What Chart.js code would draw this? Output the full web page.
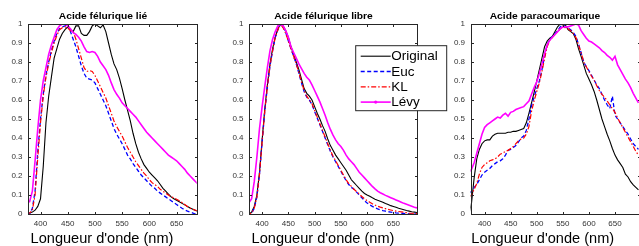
<!DOCTYPE html>
<html>
<head>
<meta charset="utf-8">
<script src="https://cdn.jsdelivr.net/npm/chart.js@4.4.0/dist/chart.umd.min.js"></script>
<style>
html, body { margin: 0; padding: 0; background: #fff; overflow: hidden; width: 639px; height: 246px; }
.plot { position: absolute; top: 0; height: 246px; }
</style>
</head>
<body>
<div class="plot" style="left:0px;width:213px;z-index:1"><canvas id="c1" width="213" height="246" style="width:213px;height:246px"></canvas></div>
<div class="plot" style="left:426px;width:230px;z-index:2"><canvas id="c3" width="230" height="246" style="width:230px;height:246px"></canvas></div>
<div class="plot" style="left:213px;width:250px;z-index:3"><canvas id="c2" width="250" height="246" style="width:250px;height:246px"></canvas></div>
<script>
// wavelengths (nm), shared by all three panels
const wavelengths = [
  370, 375, 380, 385, 390, 395, 400, 405, 410, 415,
  420, 425, 430, 435, 440, 445, 450, 455, 460, 465,
  470, 475, 480, 485, 490, 495, 500, 505, 510, 515,
  520, 525, 530, 535, 540, 545, 550, 555, 560, 565,
  570, 575, 580, 585, 590, 595, 600, 605, 610, 615,
  620, 625, 630, 635, 640, 645, 650, 655, 660, 665,
  670, 675, 680, 685, 690, 695
];
const seriesNames = ['Original', 'Euc', 'KL', 'Lévy'];
const xTicks = [400, 450, 500, 550, 600, 650];
const yTicks = [0, 0.1, 0.2, 0.3, 0.4, 0.5, 0.6, 0.7, 0.8, 0.9, 1];

// Acide férulique lié
const lieOriginal = [
  0, 0, 0.005, 0.01, 0.02, 0.04, 0.08, 0.25, 0.48, 0.62,
  0.72, 0.82, 0.87, 0.92, 0.95, 0.97, 0.985, 0.97, 0.96, 0.99,
  0.99, 0.95, 0.94, 0.94, 0.96, 0.99, 1.0, 0.99, 0.98, 0.995,
  0.96, 0.90, 0.84, 0.79, 0.76, 0.715, 0.66, 0.60, 0.545, 0.49,
  0.425, 0.37, 0.325, 0.29, 0.26, 0.24, 0.22, 0.205, 0.19, 0.175,
  0.155, 0.135, 0.12, 0.105, 0.09, 0.08, 0.072, 0.064, 0.056, 0.048,
  0.04, 0.032, 0.025, 0.018, 0.012, 0.008
];
const lieEuc = [
  0, 0, 0, 0.03, 0.12, 0.33, 0.50, 0.63, 0.73, 0.80,
  0.86, 0.91, 0.95, 0.975, 0.985, 0.99, 1.0, 0.96, 0.92, 0.88,
  0.83, 0.78, 0.74, 0.715, 0.71, 0.705, 0.69, 0.66, 0.63, 0.60,
  0.57, 0.53, 0.49, 0.45, 0.42, 0.395, 0.37, 0.34, 0.31, 0.29,
  0.265, 0.245, 0.225, 0.205, 0.19, 0.175, 0.16, 0.145, 0.135, 0.12,
  0.11, 0.10, 0.09, 0.08, 0.07, 0.06, 0.05, 0.04, 0.03, 0.022,
  0.015, 0.01, 0.005, 0, 0, 0
];
const lieKL = [
  0, 0, 0.005, 0.02, 0.10, 0.30, 0.48, 0.62, 0.72, 0.79,
  0.85, 0.90, 0.94, 0.97, 0.98, 0.985, 0.98, 0.965, 0.96, 0.92,
  0.87, 0.82, 0.77, 0.75, 0.755, 0.75, 0.73, 0.70, 0.67, 0.64,
  0.61, 0.57, 0.53, 0.49, 0.46, 0.435, 0.41, 0.38, 0.35, 0.325,
  0.30, 0.275, 0.255, 0.235, 0.215, 0.20, 0.18, 0.165, 0.155, 0.145,
  0.13, 0.12, 0.11, 0.10, 0.09, 0.085, 0.078, 0.07, 0.06, 0.05,
  0.04, 0.03, 0.025, 0.02, 0.015, 0.01
];
const lieLevy = [
  0.06, 0.06, 0.065, 0.12, 0.28, 0.45, 0.60, 0.70, 0.77, 0.84,
  0.89, 0.93, 0.97, 0.99, 1.0, 1.0, 0.99, 0.975, 0.955, 0.945,
  0.93, 0.91, 0.88, 0.855, 0.85, 0.855, 0.85, 0.83, 0.80, 0.78,
  0.76, 0.73, 0.69, 0.655, 0.63, 0.61, 0.585, 0.57, 0.555, 0.54,
  0.525, 0.51, 0.49, 0.47, 0.45, 0.43, 0.415, 0.40, 0.385, 0.37,
  0.355, 0.34, 0.325, 0.31, 0.30, 0.29, 0.28, 0.265, 0.25, 0.235,
  0.215, 0.20, 0.185, 0.17, 0.155, 0.14
];

// Acide férulique libre
const libreOriginal = [
  0, 0, 0.01, 0.04, 0.10, 0.22, 0.39, 0.55, 0.68, 0.79,
  0.87, 0.93, 0.975, 1.0, 0.99, 0.965, 0.93, 0.88, 0.84, 0.80,
  0.76, 0.71, 0.66, 0.635, 0.62, 0.60, 0.565, 0.53, 0.50, 0.465,
  0.435, 0.395, 0.36, 0.335, 0.31, 0.29, 0.27, 0.25, 0.23, 0.205,
  0.18, 0.165, 0.15, 0.135, 0.12, 0.108, 0.10, 0.093, 0.085, 0.078,
  0.072, 0.067, 0.062, 0.055, 0.05, 0.044, 0.04, 0.035, 0.03, 0.026,
  0.022, 0.018, 0.015, 0.012, 0.01, 0.008
];
const libreEuc = [
  0, 0, 0.005, 0.03, 0.09, 0.21, 0.38, 0.54, 0.67, 0.78,
  0.86, 0.93, 0.97, 1.0, 0.985, 0.955, 0.91, 0.87, 0.83, 0.79,
  0.74, 0.69, 0.645, 0.615, 0.60, 0.575, 0.54, 0.505, 0.47, 0.435,
  0.40, 0.365, 0.33, 0.30, 0.275, 0.25, 0.225, 0.20, 0.175, 0.155,
  0.14, 0.13, 0.115, 0.10, 0.085, 0.07, 0.058, 0.048, 0.04, 0.033,
  0.027, 0.022, 0.018, 0.015, 0.012, 0.01, 0.008, 0.006, 0.005, 0.004,
  0.003, 0.002, 0.001, 0, 0, 0
];
const libreKL = [
  0, 0, 0.005, 0.03, 0.09, 0.21, 0.38, 0.54, 0.67, 0.78,
  0.86, 0.93, 0.97, 1.0, 0.98, 0.95, 0.91, 0.87, 0.83, 0.79,
  0.745, 0.695, 0.65, 0.62, 0.60, 0.58, 0.545, 0.51, 0.475, 0.44,
  0.405, 0.37, 0.335, 0.305, 0.28, 0.255, 0.23, 0.205, 0.18, 0.16,
  0.145, 0.13, 0.118, 0.105, 0.092, 0.08, 0.07, 0.062, 0.054, 0.047,
  0.041, 0.036, 0.032, 0.028, 0.024, 0.021, 0.018, 0.015, 0.013, 0.011,
  0.009, 0.007, 0.005, 0.004, 0.003, 0.002
];
const libreLevy = [
  0.06, 0.06, 0.08, 0.17, 0.30, 0.45, 0.565, 0.67, 0.77, 0.86,
  0.92, 0.96, 0.99, 1.0, 0.99, 0.965, 0.93, 0.88, 0.85, 0.82,
  0.79, 0.765, 0.74, 0.72, 0.705, 0.68, 0.65, 0.62, 0.59, 0.555,
  0.52, 0.48, 0.445, 0.415, 0.39, 0.37, 0.355, 0.335, 0.31, 0.29,
  0.275, 0.26, 0.24, 0.22, 0.205, 0.19, 0.175, 0.16, 0.145, 0.132,
  0.12, 0.112, 0.105, 0.098, 0.092, 0.086, 0.08, 0.074, 0.068, 0.062,
  0.056, 0.051, 0.046, 0.041, 0.036, 0.032
];

// Acide paracoumarique
const paraOriginal = [
  0, 0.06, 0.19, 0.29, 0.34, 0.37, 0.385, 0.39, 0.39, 0.41,
  0.42, 0.425, 0.425, 0.425, 0.425, 0.43, 0.43, 0.435, 0.435, 0.44,
  0.445, 0.45, 0.48, 0.53, 0.585, 0.64, 0.70, 0.76, 0.82, 0.88,
  0.91, 0.925, 0.935, 0.96, 0.985, 1.0, 0.995, 0.995, 0.97, 0.96,
  0.95, 0.92, 0.87, 0.83, 0.785, 0.74, 0.71, 0.68, 0.645, 0.60,
  0.55, 0.50, 0.46, 0.42, 0.385, 0.345, 0.31, 0.285, 0.265, 0.245,
  0.21, 0.195, 0.17, 0.153, 0.14, 0.127
];
const paraEuc = [
  0.11, 0.12, 0.14, 0.155, 0.18, 0.205, 0.22, 0.23, 0.24, 0.255,
  0.265, 0.275, 0.28, 0.29, 0.31, 0.335, 0.34, 0.35, 0.36, 0.38,
  0.40, 0.41, 0.44, 0.50, 0.57, 0.615, 0.66, 0.70, 0.76, 0.83,
  0.89, 0.92, 0.935, 0.95, 0.965, 0.985, 0.995, 0.985, 0.98, 0.97,
  0.955, 0.935, 0.895, 0.85, 0.80, 0.775, 0.755, 0.73, 0.705, 0.68,
  0.66, 0.63, 0.60, 0.575, 0.555, 0.62, 0.52, 0.50, 0.48, 0.46,
  0.44, 0.42, 0.395, 0.37, 0.355, 0.34
];
const paraKL = [
  0.09, 0.10, 0.13, 0.16, 0.21, 0.245, 0.26, 0.27, 0.28, 0.285,
  0.29, 0.30, 0.315, 0.32, 0.33, 0.335, 0.345, 0.355, 0.37, 0.385,
  0.395, 0.40, 0.42, 0.46, 0.54, 0.595, 0.645, 0.69, 0.75, 0.82,
  0.88, 0.915, 0.93, 0.945, 0.96, 0.975, 0.985, 0.98, 0.975, 0.965,
  0.95, 0.93, 0.89, 0.85, 0.80, 0.775, 0.75, 0.725, 0.705, 0.675,
  0.65, 0.63, 0.615, 0.595, 0.575, 0.555, 0.535, 0.505, 0.48, 0.455,
  0.43, 0.405, 0.38, 0.355, 0.33, 0.31
];
const paraLevy = [
  0.22, 0.235, 0.27, 0.32, 0.37, 0.42, 0.455, 0.47, 0.48, 0.49,
  0.50, 0.51, 0.505, 0.52, 0.53, 0.515, 0.535, 0.54, 0.55, 0.555,
  0.56, 0.565, 0.58, 0.595, 0.63, 0.665, 0.695, 0.74, 0.79, 0.845,
  0.89, 0.915, 0.93, 0.945, 0.96, 0.975, 0.985, 0.985, 0.985, 0.99,
  0.995, 1.0, 0.995, 0.965, 0.945, 0.925, 0.91, 0.905, 0.895, 0.885,
  0.875, 0.86, 0.85, 0.835, 0.825, 0.81, 0.83, 0.785, 0.76, 0.735,
  0.71, 0.69, 0.665, 0.635, 0.61, 0.585
];

const FONT = '"Liberation Sans", Arial, Helvetica, sans-serif';
const AXIS_COLOR = '#262626';
const styles = [
  { color: '#000000', dash: [], width: 1.1, order: 3 },
  { color: '#0000ff', dash: [4, 2.5], width: 1.3, order: 2 },
  { color: '#ff0000', dash: [5, 2, 1.5, 2], width: 1.2, order: 1 },
  { color: '#ff00ff', dash: [], width: 1.6, order: 0 }
];

function points(values) {
  return wavelengths.map((w, i) => ({ x: w, y: values[i] }));
}

// text stretched horizontally like the original figure
function drawText(ctx, text, x, y, font, sx) {
  ctx.save();
  ctx.font = font;
  ctx.fillStyle = '#000';
  ctx.textAlign = 'center';
  ctx.textBaseline = 'alphabetic';
  ctx.translate(x, y);
  ctx.scale(sx, 1);
  ctx.fillText(text, 0, 0);
  ctx.restore();
}

// box, inward ticks, titles and (optionally) the legend
const decorPlugin = {
  id: 'decor',
  afterDatasetsDraw(chart) {
    const o = chart.options.plugins.decor;
    const ctx = chart.ctx;
    const ca = chart.chartArea;
    const xs = chart.scales.x, ys = chart.scales.y;
    const L = Math.round(ca.left) + 0.5, R = Math.round(ca.right) + 0.5;
    const T = Math.round(ca.top) + 0.5, B = Math.round(ca.bottom) + 0.5;
    ctx.save();
    ctx.strokeStyle = AXIS_COLOR;
    ctx.lineWidth = 1;
    ctx.setLineDash([]);
    ctx.strokeRect(L, T, R - L, B - T);
    ctx.beginPath();
    xTicks.forEach(v => {
      const px = Math.round(xs.getPixelForValue(v)) + 0.5;
      ctx.moveTo(px, B); ctx.lineTo(px, B - 2.5);
      ctx.moveTo(px, T); ctx.lineTo(px, T + 2.5);
    });
    yTicks.forEach(v => {
      const py = Math.round(ys.getPixelForValue(v)) + 0.5;
      ctx.moveTo(L, py); ctx.lineTo(L + 2.5, py);
      ctx.moveTo(R, py); ctx.lineTo(R - 2.5, py);
    });
    ctx.stroke();
    ctx.restore();

    drawText(ctx, o.title, o.titleX, 19, 'bold 9.5px ' + FONT, 1.08);
    drawText(ctx, "Longueur d'onde (nm)", o.xTitleX, 242.5, '14px ' + FONT, 1.04);

    if (o.legend) {
      const lg = o.legend;
      ctx.save();
      ctx.fillStyle = '#fff';
      ctx.fillRect(lg.x, lg.y, lg.w, lg.h);
      ctx.strokeStyle = AXIS_COLOR;
      ctx.lineWidth = 1;
      ctx.strokeRect(lg.x, lg.y, lg.w, lg.h);
      chart.data.datasets.forEach((ds, i) => {
        const y = lg.y + 10.5 + i * 15.3;
        const x0 = lg.x + 5, x1 = lg.x + 35;
        ctx.strokeStyle = ds.borderColor;
        ctx.lineWidth = ds.borderWidth;
        ctx.setLineDash(ds.borderDash || []);
        ctx.beginPath();
        ctx.moveTo(x0, y); ctx.lineTo(x1, y);
        ctx.stroke();
        if (i === 3) {
          ctx.fillStyle = ds.borderColor;
          ctx.beginPath();
          ctx.arc((x0 + x1) / 2, y, 1.6, 0, Math.PI * 2);
          ctx.fill();
        }
        ctx.setLineDash([]);
        ctx.fillStyle = '#000';
        ctx.font = '13.5px ' + FONT;
        ctx.textAlign = 'left';
        ctx.textBaseline = 'middle';
        ctx.fillText(ds.label, x1 + 0.5, y + 0.5);
      });
      ctx.restore();
    }
  }
};

function makePlot(id, series, cfg) {
  const datasets = series.map((vals, i) => ({
    label: seriesNames[i],
    data: points(vals),
    borderColor: styles[i].color,
    borderDash: styles[i].dash,
    borderWidth: styles[i].width,
    order: styles[i].order,
    pointRadius: 0,
    tension: 0,
    fill: false
  }));
  const tickFont = { family: FONT, size: 8 };
  return new Chart(document.getElementById(id), {
    type: 'line',
    data: { datasets: datasets },
    options: {
      responsive: false,
      animation: false,
      devicePixelRatio: 1,
      locale: 'en-US',
      layout: { padding: { top: 24, right: cfg.padRight, bottom: 0, left: 0 } },
      plugins: {
        legend: { display: false },
        tooltip: { enabled: false },
        decor: { title: cfg.title, titleX: cfg.titleX, xTitleX: cfg.xTitleX, legend: cfg.legend }
      },
      scales: {
        x: {
          type: 'linear',
          min: cfg.xMin,
          max: cfg.xMax,
          grid: { display: false, drawTicks: false },
          border: { display: false },
          ticks: { stepSize: 50, includeBounds: false, autoSkip: false, maxRotation: 0, padding: 5, color: '#333', font: tickFont },
          afterFit: s => { s.height = 32; }
        },
        y: {
          min: 0,
          max: 1,
          grid: { display: false, drawTicks: false },
          border: { display: false },
          ticks: {
            stepSize: 0.1, autoSkip: false, padding: 5.5, color: '#333', font: tickFont,
            callback: v => String(Number(v.toFixed(1)))
          },
          afterFit: s => { s.width = cfg.yWidth; }
        }
      }
    },
    plugins: [decorPlugin]
  });
}

makePlot('c1', [lieOriginal, lieEuc, lieKL, lieLevy], {
  title: 'Acide félurique lié', titleX: 103, xTitleX: 102,
  xMin: 377, xMax: 687, yWidth: 28, padRight: 16.3
});
makePlot('c3', [paraOriginal, paraEuc, paraKL, paraLevy], {
  title: 'Acide paracoumarique', titleX: 119, xTitleX: 116.7,
  xMin: 373, xMax: 697, yWidth: 44.5, padRight: 16.5
});
makePlot('c2', [libreOriginal, libreEuc, libreKL, libreLevy], {
  title: 'Acide félurique libre', titleX: 110.5, xTitleX: 110,
  xMin: 375, xMax: 695, yWidth: 36, padRight: 46,
  legend: { x: 142.7, y: 45.7, w: 91, h: 65 }
});
</script>
</body>
</html>
